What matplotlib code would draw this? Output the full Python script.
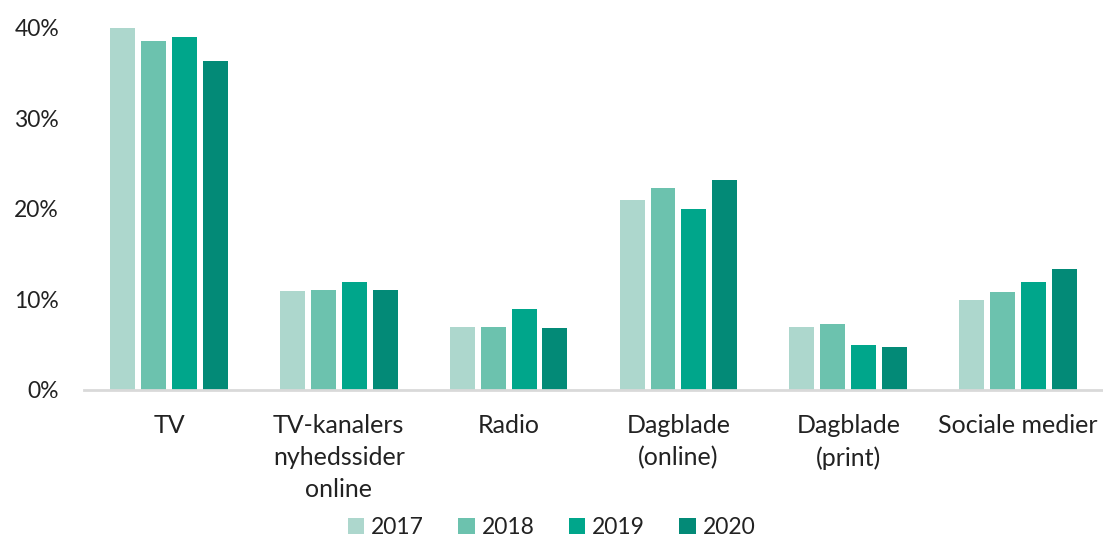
import matplotlib
matplotlib.use('Agg')
import numpy as np
import matplotlib.pyplot as plt
from matplotlib.patches import Patch

# ── Data ──────────────────────────────────────────────────────────────────────
categories = ['TV', 'TV-kanalers\nnyhedssider\nonline', 'Radio',
              'Dagblade\n(online)', 'Dagblade\n(print)', 'Sociale medier']
years = ['2017', '2018', '2019', '2020']
v2017 = [40.0, 10.9, 7.0, 21.0, 7.0, 9.9]
v2018 = [38.6, 11.0, 7.0, 22.3, 7.3, 10.8]
v2019 = [39.0, 11.9, 9.0, 20.0, 5.0, 11.9]
v2020 = [36.4, 11.0, 6.9, 23.2, 4.8, 13.4]
y_ticks = [0, 10, 20, 30, 40]

colors = ['#ADD7CD', '#6CC2AE', '#00A68B', '#038A77']

plt.rcParams['font.family'] = ['Lato', 'DejaVu Sans']

fig = plt.figure(figsize=(11.03, 5.38), dpi=100)
ax = fig.add_axes([0.0762, 0.2751, 0.9238, 0.6729])

x = np.arange(len(categories))
width = 0.147
step = 0.182
for i, (vals, c, lab) in enumerate(zip([v2017, v2018, v2019, v2020], colors, years)):
    ax.bar(x + (i - 1.5) * step, vals, width=width, color=c, label=lab, zorder=2)

ax.set_xlim(-0.5, len(categories) - 0.5)
ax.set_ylim(0, 40)
ax.set_yticks(y_ticks)
ax.set_yticklabels([f'{t}%' for t in y_ticks], fontsize=16.5, color='#222222')
ax.set_xticks(x)
ax.set_xticklabels(categories, fontsize=18, color='#222222', linespacing=1.48,
                   va='top')
ax.tick_params(axis='both', length=0)
ax.tick_params(axis='y', pad=18)
ax.tick_params(axis='x', pad=17)

for s in ['top', 'right', 'left']:
    ax.spines[s].set_visible(False)
ax.spines['bottom'].set_color('#D9D9D9')
ax.spines['bottom'].set_linewidth(2)
ax.spines['bottom'].set_zorder(3)

handles = [Patch(facecolor=c, edgecolor='none') for c in colors]
fig.legend(handles, years, loc='center', bbox_to_anchor=(0.5, 0.02),
           ncol=4, frameon=False, fontsize=16.5, handlelength=0.72,
           handleheight=0.72, handletextpad=0.3, columnspacing=1.5,
           labelcolor='#222222', borderpad=0.1)

fig.savefig('out.png', dpi=100)
